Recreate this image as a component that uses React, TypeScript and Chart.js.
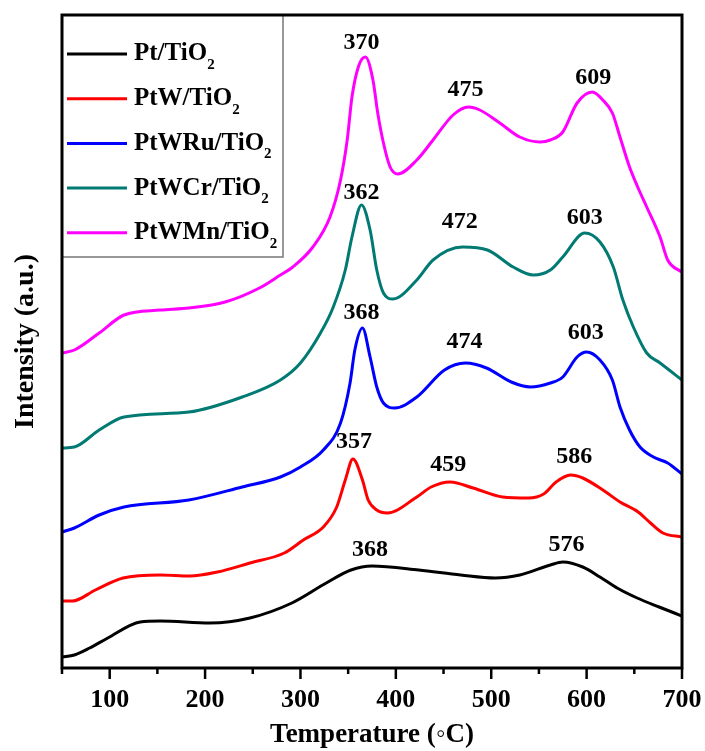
import React, { useEffect, useRef } from "react";
import { Chart, registerables } from "chart.js";

Chart.register(...registerables);

// ---- data (temperature in °C, intensity in arbitrary units, curves stacked with offsets) ----
const seriesNames = ["Pt/TiO", "PtW/TiO", "PtWRu/TiO", "PtWCr/TiO", "PtWMn/TiO"];
const seriesColors = ["#000000", "#ff0000", "#0000ff", "#007a72", "#ff00ff"];

const ptTemps = [50, 63, 79, 98, 132, 153, 205, 247, 291, 327, 353, 375, 424, 468, 504, 530, 562, 575, 596, 614, 632, 653, 676, 700];
const ptIntensity = [11, 13, 20, 30, 46, 47, 45, 50, 65, 85, 98, 102, 98, 93, 90, 93, 103, 106, 101, 91, 80, 70, 61, 52];

const ptwTemps = [50, 61, 85, 114, 153, 184, 213, 247, 283, 303, 324, 338, 347, 355, 365, 371, 380, 391, 422, 437, 457, 481, 512, 539, 555, 568, 583, 596, 617, 635, 654, 667, 680, 700];
const ptwIntensity = [67, 67, 78, 90, 93, 92, 96, 105, 115, 128, 141, 161, 188, 209, 188, 168, 158, 155, 171, 181, 186, 180, 171, 170, 174, 186, 193, 190, 178, 166, 156, 145, 135, 131];

const ptwruTemps = [50, 63, 89, 115, 183, 239, 279, 300, 324, 342, 352, 357, 365, 373, 380, 387, 399, 422, 451, 473, 495, 521, 541, 562, 575, 590, 600, 614, 627, 635, 645, 656, 670, 685, 700];
const ptwruIntensity = [136, 140, 153, 161, 168, 181, 191, 201, 218, 245, 285, 318, 340, 311, 281, 265, 260, 271, 298, 305, 300, 286, 281, 285, 291, 311, 316, 308, 288, 261, 238, 221, 211, 205, 194];

const ptwcrTemps = [50, 63, 89, 115, 183, 239, 279, 300, 321, 334, 347, 354, 364, 373, 380, 387, 397, 422, 439, 470, 496, 523, 544, 562, 575, 598, 614, 628, 638, 649, 663, 677, 700];
const ptwcrIntensity = [220, 221, 238, 251, 256, 271, 288, 305, 335, 360, 398, 431, 463, 438, 398, 375, 369, 388, 408, 421, 418, 401, 393, 398, 411, 435, 426, 401, 368, 341, 315, 305, 288];

const ptwmnTemps = [50, 63, 89, 115, 153, 183, 221, 257, 279, 292, 313, 331, 342, 349, 354, 361, 368, 376, 381, 387, 394, 402, 422, 439, 460, 476, 488, 509, 530, 551, 562, 575, 590, 606, 617, 627, 635, 645, 654, 663, 677, 685, 698, 700];
const ptwmnIntensity = [315, 318, 335, 353, 358, 360, 366, 380, 393, 401, 421, 451, 488, 528, 571, 602, 611, 588, 555, 525, 501, 494, 508, 528, 553, 561, 558, 545, 531, 526, 528, 536, 565, 576, 568, 555, 531, 501, 480, 461, 431, 408, 397, 396];

// peak annotations: text, and the (temperature, intensity) where the text sits
const peakTexts = ["368", "576", "357", "459", "586", "368", "474", "603", "362", "472", "603", "370", "475", "609"];
const peakTextTemps = [373, 579, 356, 455, 587, 364, 472, 599, 364, 467, 598, 364, 473, 607];
const peakTextLevels = [118, 123, 226, 203, 211, 355, 326, 335, 475, 446, 450, 625, 578, 590];

const xMajorTicks = [100, 200, 300, 400, 500, 600, 700];
const xMinorTicks = [50, 150, 250, 350, 450, 550, 650];

const SERIF = "'Liberation Serif', 'Times New Roman', 'DejaVu Serif', serif";

const temps = [ptTemps, ptwTemps, ptwruTemps, ptwcrTemps, ptwmnTemps];
const intens = [ptIntensity, ptwIntensity, ptwruIntensity, ptwcrIntensity, ptwmnIntensity];

export default function App() {
  const ref = useRef<HTMLCanvasElement>(null);

  useEffect(() => {
    document.body.style.margin = "0";
    const canvas = ref.current;
    if (!canvas) return;

    const decor = {
      id: "decor",
      afterDatasetsDraw(chart: any) {
        const { ctx, chartArea: a, scales } = chart;
        const xs = scales.x;
        const ys = scales.y;
        ctx.save();

        // peak labels
        ctx.fillStyle = "#000";
        ctx.font = `bold 24px ${SERIF}`;
        ctx.textAlign = "center";
        ctx.textBaseline = "middle";
        peakTexts.forEach((t, i) => {
          ctx.fillText(t, xs.getPixelForValue(peakTextTemps[i]), ys.getPixelForValue(peakTextLevels[i]));
        });

        // legend box
        const lx = a.left;
        const ly = a.top;
        const lw = 221;
        const lh = 242;
        ctx.fillStyle = "#fff";
        ctx.fillRect(lx, ly, lw, lh);
        ctx.strokeStyle = "#777";
        ctx.lineWidth = 1.5;
        ctx.strokeRect(lx, ly, lw, lh);
        seriesNames.forEach((name, i) => {
          const ry = ly + 39 + i * 44.7;
          ctx.strokeStyle = seriesColors[i];
          ctx.lineWidth = 3;
          ctx.beginPath();
          ctx.moveTo(lx + 5, ry);
          ctx.lineTo(lx + 65, ry);
          ctx.stroke();
          ctx.fillStyle = "#000";
          ctx.textAlign = "left";
          ctx.textBaseline = "middle";
          ctx.font = `bold 25px ${SERIF}`;
          ctx.fillText(name, lx + 72, ry);
          const w = ctx.measureText(name).width;
          ctx.font = `bold 15px ${SERIF}`;
          ctx.fillText("2", lx + 72 + w, ry + 11);
        });

        // frame
        ctx.strokeStyle = "#000";
        ctx.lineWidth = 3;
        ctx.strokeRect(a.left, a.top, a.right - a.left, a.bottom - a.top);

        // tick marks
        ctx.lineWidth = 2.5;
        ctx.beginPath();
        xMajorTicks.forEach((v) => {
          const x = xs.getPixelForValue(v);
          ctx.moveTo(x, a.bottom);
          ctx.lineTo(x, a.bottom + 11);
        });
        xMinorTicks.forEach((v) => {
          const x = xs.getPixelForValue(v);
          ctx.moveTo(x, a.bottom);
          ctx.lineTo(x, a.bottom + 6);
        });
        ctx.stroke();
        ctx.restore();
      },
    };

    const chart = new Chart(canvas, {
      type: "line",
      data: {
        datasets: seriesNames.map((name, i) => ({
          label: name + "2",
          data: temps[i].map((t, j) => ({ x: t, y: intens[i][j] })),
          borderColor: seriesColors[i],
          backgroundColor: seriesColors[i],
          borderWidth: 3,
          pointRadius: 0,
          fill: false,
          cubicInterpolationMode: "monotone" as const,
        })),
      },
      options: {
        responsive: false,
        animation: false,
        layout: { padding: { left: 0, top: 15, right: 23, bottom: 0 } },
        plugins: {
          legend: { display: false },
          tooltip: { enabled: false },
        },
        scales: {
          x: {
            type: "linear",
            min: 50,
            max: 700,
            afterBuildTicks: (s: any) => {
              s.ticks = xMajorTicks.map((v) => ({ value: v }));
            },
            afterFit: (s: any) => {
              s.height = 83;
              s.paddingLeft = 0;
              s.paddingRight = 0;
            },
            grid: { display: false, drawTicks: false },
            border: { display: false },
            ticks: {
              color: "#000",
              padding: 17,
              maxRotation: 0,
              autoSkip: false,
              font: { family: SERIF, size: 26, weight: "bold" },
            },
            title: {
              display: true,
              text: "Temperature (◦C)",
              color: "#000",
              padding: { top: 0, bottom: 0 },
              font: { family: SERIF, size: 27, weight: "bold" },
            },
          },
          y: {
            type: "linear",
            min: 0,
            max: 653,
            afterFit: (s: any) => {
              s.width = 62;
              s.paddingTop = 0;
              s.paddingBottom = 0;
            },
            ticks: { display: false },
            grid: { display: false, drawTicks: false },
            border: { display: false },
            title: {
              display: true,
              text: "Intensity (a.u.)",
              color: "#000",
              padding: { top: 9, bottom: 0 },
              font: { family: SERIF, size: 28, weight: "bold" },
            },
          },
        },
      },
      plugins: [decor],
    });

    return () => chart.destroy();
  }, []);

  return <canvas ref={ref} width={705} height={751} style={{ display: "block" }} />;
}
